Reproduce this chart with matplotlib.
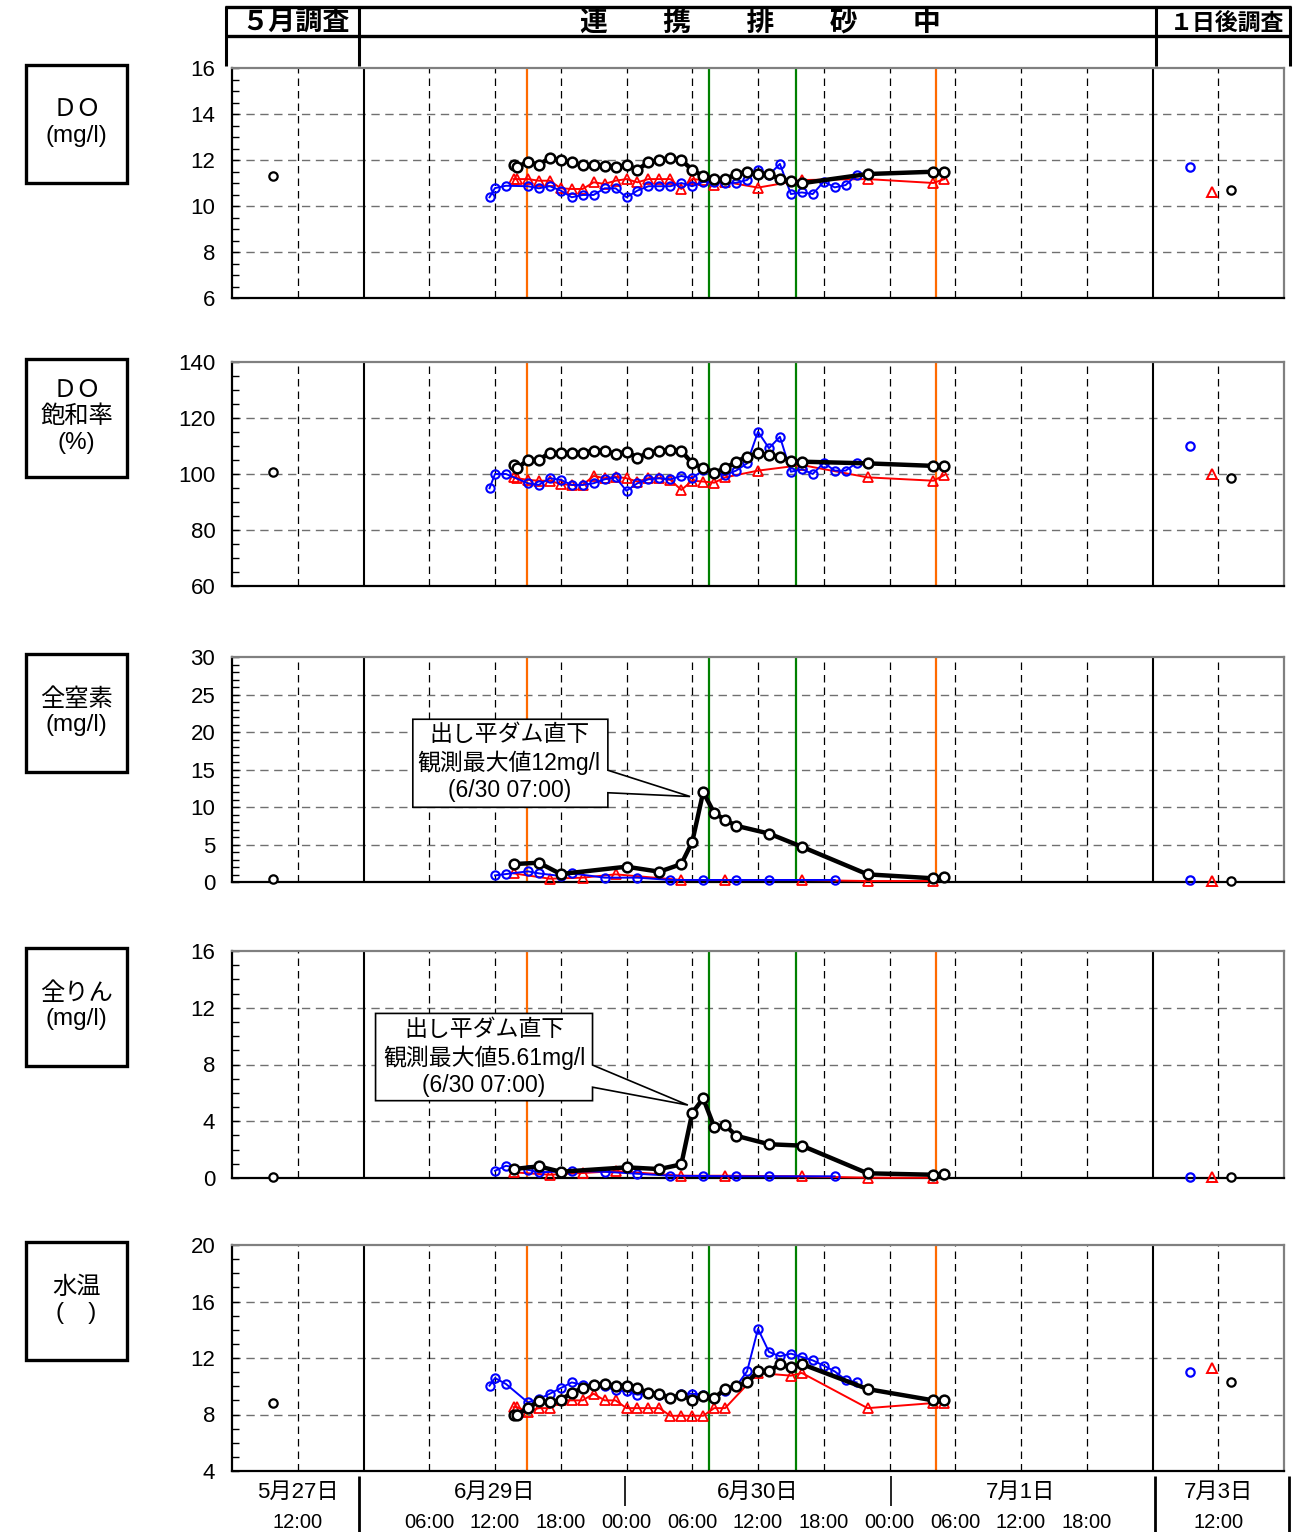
import numpy as np
import matplotlib
matplotlib.use("Agg")
import matplotlib.pyplot as plt
from matplotlib.patches import Rectangle, Polygon
from matplotlib.lines import Line2D
from matplotlib.ticker import MultipleLocator
import matplotlib.transforms as mtransforms

plt.rcParams['font.family'] = ['Liberation Sans', 'Noto Sans CJK JP', 'DejaVu Sans']

# ---------------- time axis (hours on a composite axis) ----------------
# -12..0 : 5/27 06:00-18:00 (5月調査) ; 0..72 : 6/29 00:00 - 7/2 00:00 ; 72..84 : 7/3 06:00-18:00
T_BLACK = [13.7, 14, 15, 16, 17, 18, 19, 20, 21, 22, 23, 24, 25, 26, 27, 28, 29, 30,
           31, 32, 33, 34, 35, 36, 37, 38, 39, 40, 46, 52, 53]
T_BLUE = [11.5, 12, 13, 15, 16, 17, 18, 19, 20, 21, 22, 23, 24, 25, 26, 27, 28, 29, 30,
          31, 32, 33, 34, 35, 36, 37, 38, 39, 40, 41, 42, 43, 44, 45]
T_RED_DO = [13.7, 14, 15, 16, 17, 18, 19, 20, 21, 22, 23, 24, 25, 26, 27, 28, 29, 30,
            31, 32, 33, 36, 40, 46, 52, 53]
T_RED_WT = [13.7, 14, 15, 16, 17, 18, 19, 20, 21, 22, 23, 24, 25, 26, 27, 28, 29, 30,
            31, 32, 33, 36, 39, 40, 46, 52, 53]
T_BLACK_Q = [13.7, 16, 18, 24, 27, 29, 30, 31, 32, 33, 34, 37, 40, 46, 52, 53]
T_BLUE_N = [12, 13, 15, 16, 18, 19, 22, 25, 28, 31, 34, 37, 43]
T_BLUE_P = [12, 13, 15, 16, 19, 22, 25, 28, 31, 34, 37, 43]
T_RED_Q = [13.7, 17, 20, 23, 29, 33, 40, 46, 52]

# single surveys: 5/27 (black) and 7/3 (black, blue, red)
T_SGL_BLACK = [-8.25, 79.2]
T_SGL_BLUE = [75.4]
T_SGL_RED = [77.4]

# ---------------- DO (mg/l) ----------------
DO_BLACK = [11.78, 11.68, 11.93, 11.78, 12.10, 11.99, 11.90, 11.78, 11.78, 11.75, 11.68,
            11.78, 11.58, 11.90, 11.99, 12.10, 11.99, 11.58, 11.29, 11.17, 11.17, 11.39,
            11.49, 11.39, 11.39, 11.17, 11.09, 10.99, 11.39, 11.49, 11.49]
DO_BLUE = [10.38, 10.78, 10.88, 10.86, 10.77, 10.86, 10.67, 10.38, 10.48, 10.48, 10.77,
           10.77, 10.38, 10.67, 10.86, 10.86, 10.86, 11.00, 10.86, 11.05, 11.05, 11.01,
           11.01, 11.13, 11.57, 11.35, 11.83, 10.52, 10.59, 10.52, 11.06, 10.81, 10.91, 11.35]
DO_RED = [11.17, 11.17, 11.17, 11.10, 11.10, 10.77, 10.74, 10.74, 11.03, 10.96, 11.10,
          11.17, 11.03, 11.17, 11.17, 11.17, 10.74, 11.17, 11.13, 10.93, 11.05, 10.80,
          11.13, 11.17, 11.00, 11.17]
DO_SGL_BLACK = [11.3, 10.7]
DO_SGL_BLUE = [11.7]
DO_SGL_RED = [10.6]

# ---------------- DO saturation (%) ----------------
DOS_BLACK = [103.2, 102.0, 105.0, 105.0, 107.6, 107.4, 107.6, 107.6, 108.3, 108.3, 107.1,
             108.0, 105.8, 107.6, 108.3, 108.6, 108.3, 103.8, 102.3, 100.5, 102.0, 104.4,
             106.2, 107.4, 106.8, 106.2, 104.8, 104.4, 103.8, 102.9, 102.9]
DOS_BLUE = [94.9, 100.0, 100.0, 96.7, 96.1, 98.5, 97.9, 96.1, 96.1, 96.7, 98.1, 98.8, 94.0,
            96.7, 98.1, 98.5, 98.1, 99.3, 98.5, 101.4, 100.5, 99.6, 101.2, 103.8, 115.1,
            109.2, 113.3, 100.8, 101.7, 100.0, 104.0, 101.2, 101.2, 104.0]
DOS_RED = [98.8, 98.5, 97.9, 97.6, 97.6, 96.4, 96.1, 96.1, 99.3, 98.5, 99.0, 98.5, 97.3,
           98.5, 98.5, 97.9, 94.3, 97.6, 97.3, 96.9, 98.8, 101.2, 103.2, 98.8, 97.6, 99.6]
DOS_SGL_BLACK = [100.7, 98.6]
DOS_SGL_BLUE = [110.0]
DOS_SGL_RED = [100.0]

# ---------------- Total nitrogen (mg/l) ----------------
TN_BLACK = [2.39, 2.57, 1.06, 2.04, 1.37, 2.39, 5.35, 12.0, 9.2, 8.3, 7.5, 6.46, 4.7,
            1.02, 0.49, 0.71]
TN_BLUE = [0.88, 1.06, 1.42, 1.15, 0.80, 1.15, 0.58, 0.58, 0.27, 0.27, 0.27, 0.27, 0.27]
TN_RED = [1.15, 0.44, 0.58, 1.02, 0.27, 0.27, 0.27, 0.13, 0.13]
TN_SGL_BLACK = [0.4, 0.15]
TN_SGL_BLUE = [0.3]
TN_SGL_RED = [0.1]

# ---------------- Total phosphorus (mg/l) ----------------
TP_BLACK = [0.63, 0.82, 0.44, 0.75, 0.63, 0.96, 4.59, 5.61, 3.61, 3.73, 2.98, 2.38, 2.28,
            0.33, 0.23, 0.26]
TP_BLUE = [0.51, 0.86, 0.58, 0.40, 0.49, 0.44, 0.30, 0.16, 0.14, 0.12, 0.12, 0.12]
TP_RED = [0.40, 0.23, 0.35, 0.49, 0.16, 0.16, 0.12, 0.02, 0.02]
TP_SGL_BLACK = [0.05, 0.05]
TP_SGL_BLUE = [0.05]
TP_SGL_RED = [0.05]

# ---------------- Water temperature ----------------
WT_BLACK = [7.98, 7.98, 8.45, 8.93, 8.86, 9.04, 9.52, 9.87, 10.11, 10.16, 10.04, 10.04,
            9.87, 9.52, 9.47, 9.16, 9.40, 9.00, 9.33, 9.16, 9.80, 9.99, 10.27, 11.05,
            11.05, 11.57, 11.34, 11.57, 9.80, 9.00, 9.00]
WT_BLUE = [10.04, 10.58, 10.16, 8.86, 9.09, 9.47, 9.87, 10.27, 10.11, 10.11, 9.99, 9.71,
           9.64, 9.40, 9.52, 9.40, 9.16, 9.47, 9.47, 9.40, 9.16, 9.64, 9.99, 11.05, 14.06,
           12.43, 12.12, 12.31, 12.07, 11.83, 11.46, 11.05, 10.46, 10.27]
WT_RED = [8.52, 8.52, 8.21, 8.45, 8.45, 9.00, 9.00, 9.00, 9.47, 9.00, 9.00, 8.45, 8.45,
          8.45, 8.45, 7.91, 7.91, 7.91, 7.91, 8.45, 8.45, 10.94, 10.75, 10.94, 8.45, 8.81, 8.81]
WT_SGL_BLACK = [8.83, 10.3]
WT_SGL_BLUE = [11.0]
WT_SGL_RED = [11.3]

# ---------------- event lines / grid ----------------
EVENT_ORANGE = [14.9, 52.2]
EVENT_GREEN = [31.5, 39.5]
SEGMENT_BOUNDS = [0, 72]
VGRID = [-6, 6, 12, 18, 24, 30, 36, 42, 48, 54, 60, 66, 78]

DAY_LABELS = ['5月27日', '6月29日', '6月30日', '7月1日', '7月3日']
DAY_POS = [-6, 12, 36, 60, 78]
TIME_LABELS = ['12:00', '06:00', '12:00', '18:00', '00:00', '06:00', '12:00', '18:00',
               '00:00', '06:00', '12:00', '18:00', '12:00']
TIME_POS = [-6, 6, 12, 18, 24, 30, 36, 42, 48, 54, 60, 66, 78]

HEADER_LABELS = ['５月調査', '連　　携　　排　　砂　　中', '１日後調査']
BOX_LABELS = ['ＤＯ\n(mg/l)', 'ＤＯ\n飽和率\n(%)', '全窒素\n(mg/l)', '全りん\n(mg/l)', '水温\n(　)']

# ---------------- figure ----------------
W, H = 1297, 1532
fig = plt.figure(figsize=(W / 100, H / 100), dpi=100)

def fx(px):
    return px / W

def fy(py):
    return 1 - py / H

AX_L, AX_R = 232, 1284
panels = [
    dict(top=68, bot=298, ylim=(6, 16), major=2, minor=0.5,
         black=(T_BLACK, DO_BLACK), blue=(T_BLUE, DO_BLUE), red=(T_RED_DO, DO_RED),
         sgl=(DO_SGL_BLACK, DO_SGL_BLUE, DO_SGL_RED)),
    dict(top=362, bot=586, ylim=(60, 140), major=20, minor=5,
         black=(T_BLACK, DOS_BLACK), blue=(T_BLUE, DOS_BLUE), red=(T_RED_DO, DOS_RED),
         sgl=(DOS_SGL_BLACK, DOS_SGL_BLUE, DOS_SGL_RED)),
    dict(top=657, bot=882, ylim=(0, 30), major=5, minor=1,
         black=(T_BLACK_Q, TN_BLACK), blue=(T_BLUE_N, TN_BLUE), red=(T_RED_Q, TN_RED),
         sgl=(TN_SGL_BLACK, TN_SGL_BLUE, TN_SGL_RED)),
    dict(top=951, bot=1178, ylim=(0, 16), major=4, minor=1,
         black=(T_BLACK_Q, TP_BLACK), blue=(T_BLUE_P, TP_BLUE), red=(T_RED_Q, TP_RED),
         sgl=(TP_SGL_BLACK, TP_SGL_BLUE, TP_SGL_RED)),
    dict(top=1245, bot=1471, ylim=(4, 20), major=4, minor=1,
         black=(T_BLACK, WT_BLACK), blue=(T_BLUE, WT_BLUE), red=(T_RED_WT, WT_RED),
         sgl=(WT_SGL_BLACK, WT_SGL_BLUE, WT_SGL_RED)),
]

BLUE = '#0000FF'
RED = '#FF0000'
ORANGE = '#FF6A00'
GREEN = '#008000'
DASH = (0, (6, 4))

axes = []
for p in panels:
    ax = fig.add_axes([fx(AX_L), fy(p['bot']), fx(AX_R) - fx(AX_L), (p['bot'] - p['top']) / H])
    axes.append(ax)
    ax.set_xlim(-12, 84)
    ax.set_ylim(*p['ylim'])
    ax.set_xticks([])
    ax.yaxis.set_major_locator(MultipleLocator(p['major']))
    ax.yaxis.set_minor_locator(MultipleLocator(p['minor']))
    ax.yaxis.set_ticks_position('left')
    ax.tick_params(axis='y', which='both', direction='in', length=5, width=1,
                   labelsize=16, pad=12)
    for s in ['left', 'bottom']:
        ax.spines[s].set_color('black')
        ax.spines[s].set_linewidth(1.6)
    for s in ['top', 'right']:
        ax.spines[s].set_color('#808080')
        ax.spines[s].set_linewidth(1.6)
    ylo, yhi = p['ylim']
    for yv in np.arange(ylo + p['major'], yhi, p['major']):
        ax.axhline(yv, color='#707070', lw=1.0, ls=DASH, zorder=1)
    for t in VGRID:
        ax.axvline(t, color='black', lw=0.9, ls=DASH, zorder=1)
    for t in SEGMENT_BOUNDS:
        ax.axvline(t, color='black', lw=1.5, zorder=2)
    for t in EVENT_ORANGE:
        ax.axvline(t, color=ORANGE, lw=1.6, zorder=2)
    for t in EVENT_GREEN:
        ax.axvline(t, color=GREEN, lw=1.6, zorder=2)

    tr, vr = p['red']
    ax.plot(tr, vr, color=RED, lw=1.4, marker='^', ms=6.5, mfc='none', mec=RED, mew=1.3,
            zorder=5, clip_on=False)
    tb, vb = p['blue']
    ax.plot(tb, vb, color=BLUE, lw=1.4, marker='o', ms=6, mfc='none', mec=BLUE, mew=1.5,
            zorder=6, clip_on=False)
    tk, vk = p['black']
    ax.plot(tk, vk, color='black', lw=3.2, marker='o', ms=7, mfc='white', mec='black',
            mew=1.8, zorder=7, clip_on=False)

    sk, sb, sr = p['sgl']
    ax.plot(T_SGL_BLACK, sk, ls='none', marker='o', ms=6, mfc='white', mec='black',
            mew=1.6, zorder=7, clip_on=False)
    ax.plot(T_SGL_BLUE, sb, ls='none', marker='o', ms=6, mfc='none', mec=BLUE,
            mew=1.6, zorder=7, clip_on=False)
    ax.plot(T_SGL_RED, sr, ls='none', marker='^', ms=6.5, mfc='none', mec=RED,
            mew=1.4, zorder=7, clip_on=False)

# ---------------- callouts ----------------
def callout(ax, box, base, tip, text_xy, text):
    x0, y0, x1, y1 = box
    b_hi, b_lo = base
    verts = [(x0, y0), (x0, y1), (x1, y1), (x1, b_hi), tip, (x1, b_lo), (x1, y0)]
    ax.add_patch(Polygon(verts, closed=True, fc='white', ec='black', lw=1.2, zorder=4))
    ax.text(text_xy[0], text_xy[1], text, ha='center', va='center', fontsize=16.5,
            linespacing=1.22, zorder=8)

callout(axes[2], (4.5, 9.96, 22.3, 21.7), (14.9, 11.9), (29.8, 11.4), (13.3, 15.9),
        '出し平ダム直下\n観測最大値12mg/l\n(6/30 07:00)')
callout(axes[3], (1.1, 5.45, 20.9, 11.6), (7.96, 6.4), (29.6, 5.14), (11.0, 8.5),
        '出し平ダム直下\n観測最大値5.61mg/l\n(6/30 07:00)')

# ---------------- header table ----------------
def fline(x0, y0, x1, y1, lw):
    fig.add_artist(Line2D([fx(x0), fx(x1)], [fy(y0), fy(y1)], color='black', lw=lw,
                          solid_capstyle='butt'))

fline(225, 7, 1291, 7, 2.4)
fline(225, 36, 1291, 36, 2.4)
for xv in [226, 359, 1156, 1290]:
    fline(xv, 6, xv, 66, 2.2)
fig.text(fx(296), fy(23), HEADER_LABELS[0], ha='center', va='center', fontsize=19.5,
         fontweight='bold')
fig.text(fx(760), fy(23), HEADER_LABELS[1], ha='center', va='center', fontsize=20,
         fontweight='bold')
fig.text(fx(1227), fy(23), HEADER_LABELS[2], ha='center', va='center', fontsize=16.5,
         fontweight='bold')

# ---------------- left label boxes ----------------
for (p, lab) in zip(panels, BOX_LABELS):
    t = p['top'] - 3
    fig.add_artist(Rectangle((fx(26), fy(t + 118)), fx(127) - fx(26), 118 / H,
                             fill=False, ec='black', lw=2.4))
    fig.text(fx(76.5), fy(t + 58), lab, ha='center', va='center', fontsize=17.5,
             linespacing=1.2)

# ---------------- bottom labels ----------------
ax5 = axes[-1]
trans = mtransforms.blended_transform_factory(ax5.transData, fig.transFigure)
for lab, pos in zip(DAY_LABELS, DAY_POS):
    ax5.text(pos, fy(1492), lab, transform=trans, ha='center', va='center', fontsize=16,
             clip_on=False)
for lab, pos in zip(TIME_LABELS, TIME_POS):
    ax5.text(pos, fy(1522), lab, transform=trans, ha='center', va='center', fontsize=14.5,
             clip_on=False)
fline(359, 1476, 359, 1532, 2.0)
fline(1155, 1476, 1155, 1532, 2.0)
fline(1289, 1476, 1289, 1532, 2.0)
fline(625, 1476, 625, 1506, 1.2)
fline(891, 1476, 891, 1506, 1.2)

fig.savefig('out.png', dpi=100)
